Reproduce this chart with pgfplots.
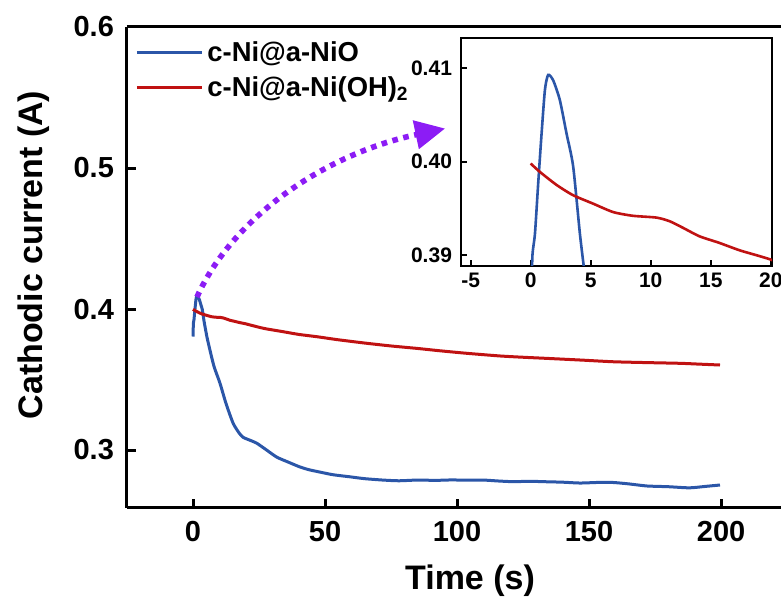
\documentclass[border=0pt]{standalone}
\usepackage{fontspec}
\setmainfont{Liberation Sans}
\usepackage{pgfplots}
\pgfplotsset{compat=1.18}
\usetikzlibrary{arrows.meta}
\definecolor{cblue}{RGB}{43,86,168}
\definecolor{cred}{RGB}{192,18,18}
\definecolor{cpurple}{RGB}{140,28,245}

\pgfplotstableread{
t y
0.0 0.3805
0.08 0.3860
0.15 0.3900
0.36 0.3923
0.63 0.3977
0.91 0.4030
1.19 0.4077
1.46 0.4093
1.88 0.4087
2.43 0.4066
2.99 0.4030
3.54 0.3995
4.1 0.3923
4.5 0.3880
5.3 0.3800
6.4 0.3710
8.0 0.3590
10.2 0.3475
12.5 0.3330
15.2 0.3190
17.5 0.3120
19.0 0.3090
21.5 0.3070
24.0 0.3050
27.5 0.3005
31.7 0.2950
36.0 0.2915
40.5 0.2880
44.0 0.2860
48.0 0.2844
53.0 0.2825
59.5 0.2810
65.0 0.2797
72.0 0.2787
78.0 0.2782
84.8 0.2787
92.0 0.2785
98.0 0.2788
103.8 0.2786
110.0 0.2787
116.0 0.2780
121.0 0.2776
128.0 0.2778
134.0 0.2775
140.0 0.2772
146.6 0.2766
153.0 0.2770
159.0 0.2770
165.0 0.2760
172.0 0.2745
180.0 0.2740
188.0 0.2732
194.0 0.2742
199.6 0.2752
}\bluedata

\pgfplotstableread{
t y
0.0 0.3998
0.77 0.3989
2.16 0.3975
3.54 0.3964
5.2 0.3955
6.86 0.3946
8.5 0.3942
10.5 0.3940
11.6 0.3936
12.7 0.3929
14.06 0.3920
15.7 0.3913
17.4 0.3905
19.0 0.3899
20.0 0.3895
21.6 0.3887
27.0 0.3862
34.2 0.3839
40.0 0.3820
46.8 0.3804
55.0 0.3782
65.8 0.3757
75.0 0.3738
84.7 0.3721
94.0 0.3703
103.7 0.3686
116.3 0.3667
125.0 0.3658
134.0 0.3650
147.0 0.3638
159.2 0.3626
172.0 0.3620
184.5 0.3615
192.0 0.3609
199.6 0.3603
}\reddata

\begin{document}
\begin{tikzpicture}
\begin{axis}[
  name=main,
  at={(0pt,0pt)}, anchor=south west,
  scale only axis,
  width=327pt, height=240.5pt,
  xmin=-25, xmax=222.7,
  ymin=0.2589, ymax=0.6,
  axis x line=box, axis y line=left,
  axis line style={-, line width=1.5pt},
  xtick pos=bottom, ytick pos=left,
  xtick={0,50,100,150,200},
  ytick={0.3,0.4,0.5,0.6},
  yticklabels={0.3,0.4,0.5,0.6},
  tick align=inside,
  major tick length=4.5pt,
  tick style={line width=1.5pt, black},
  /pgf/number format/assume math mode=true,
  tick label style={font=\fontsize{14.5}{17}\selectfont\bfseries},
  xticklabel style={yshift=-3pt},
  yticklabel style={xshift=-3pt},
  xlabel={Time (s)},
  ylabel={Cathodic current (A)},
  label style={font=\fontsize{17}{20}\selectfont\bfseries},
  xlabel style={at={(rel axis cs:0.5245,0)}, anchor=base, yshift=-41pt},
  ylabel style={at={(rel axis cs:0,0.526)}, anchor=base, yshift=42pt},
  legend style={draw=none, fill=none, at={(0pt,240.5pt)}, anchor=north west,
    font=\fontsize{13.7}{16}\selectfont\bfseries, xshift=2pt, yshift=-3pt,
    row sep=2pt, inner sep=2pt},
  legend cell align=left,
  legend image code/.code={\draw[#1, line width=1.5pt] (0pt,0pt) -- (32.5pt,0pt);},
  clip=true,
]
\addplot[cblue, line width=1.5pt, smooth, tension=0.4] table[x=t,y=y] {\bluedata};
\addlegendentry{c-Ni@a-NiO}
\addplot[cred, line width=1.5pt, smooth, tension=0.4] table[x=t,y=y] {\reddata};
\addlegendentry{c-Ni@a-Ni(OH)\textsubscript{2}}
\draw[cpurple, line width=2.8pt, dash pattern=on 2.8pt off 2.8pt,
  -{Triangle[length=15pt, width=14pt]}]
  (axis cs:1.5,0.4085) .. controls (axis cs:15,0.465) and (axis cs:50,0.51) .. (axis cs:95.5,0.528);
\end{axis}

\begin{axis}[
  at={(167pt,121pt)}, anchor=south west,
  scale only axis,
  width=155.5pt, height=114pt,
  xmin=-5.8, xmax=20.1,
  ymin=0.38882, ymax=0.41325,
  axis line style={line width=1pt},
  xtick={-5,0,5,10,15,20},
  ytick={0.39,0.40,0.41},
  yticklabels={0.39,0.40,0.41},
  xtick pos=bottom, ytick pos=left,
  tick align=inside,
  major tick length=3pt,
  tick style={line width=1pt, black},
  /pgf/number format/assume math mode=true,
  tick label style={font=\fontsize{10.5}{12}\selectfont\bfseries},
  yticklabel style={xshift=-1pt},
  axis background/.style={fill=white},
]
\addplot[cblue, line width=1.3pt, smooth, tension=0.4] table[x=t,y=y] {\bluedata};
\addplot[cred, line width=1.3pt, smooth, tension=0.4] table[x=t,y=y] {\reddata};
\end{axis}
\pgfresetboundingbox
\path[use as bounding box] (-63.5pt,-45pt) rectangle (327pt,254pt);
\end{tikzpicture}
\end{document}
